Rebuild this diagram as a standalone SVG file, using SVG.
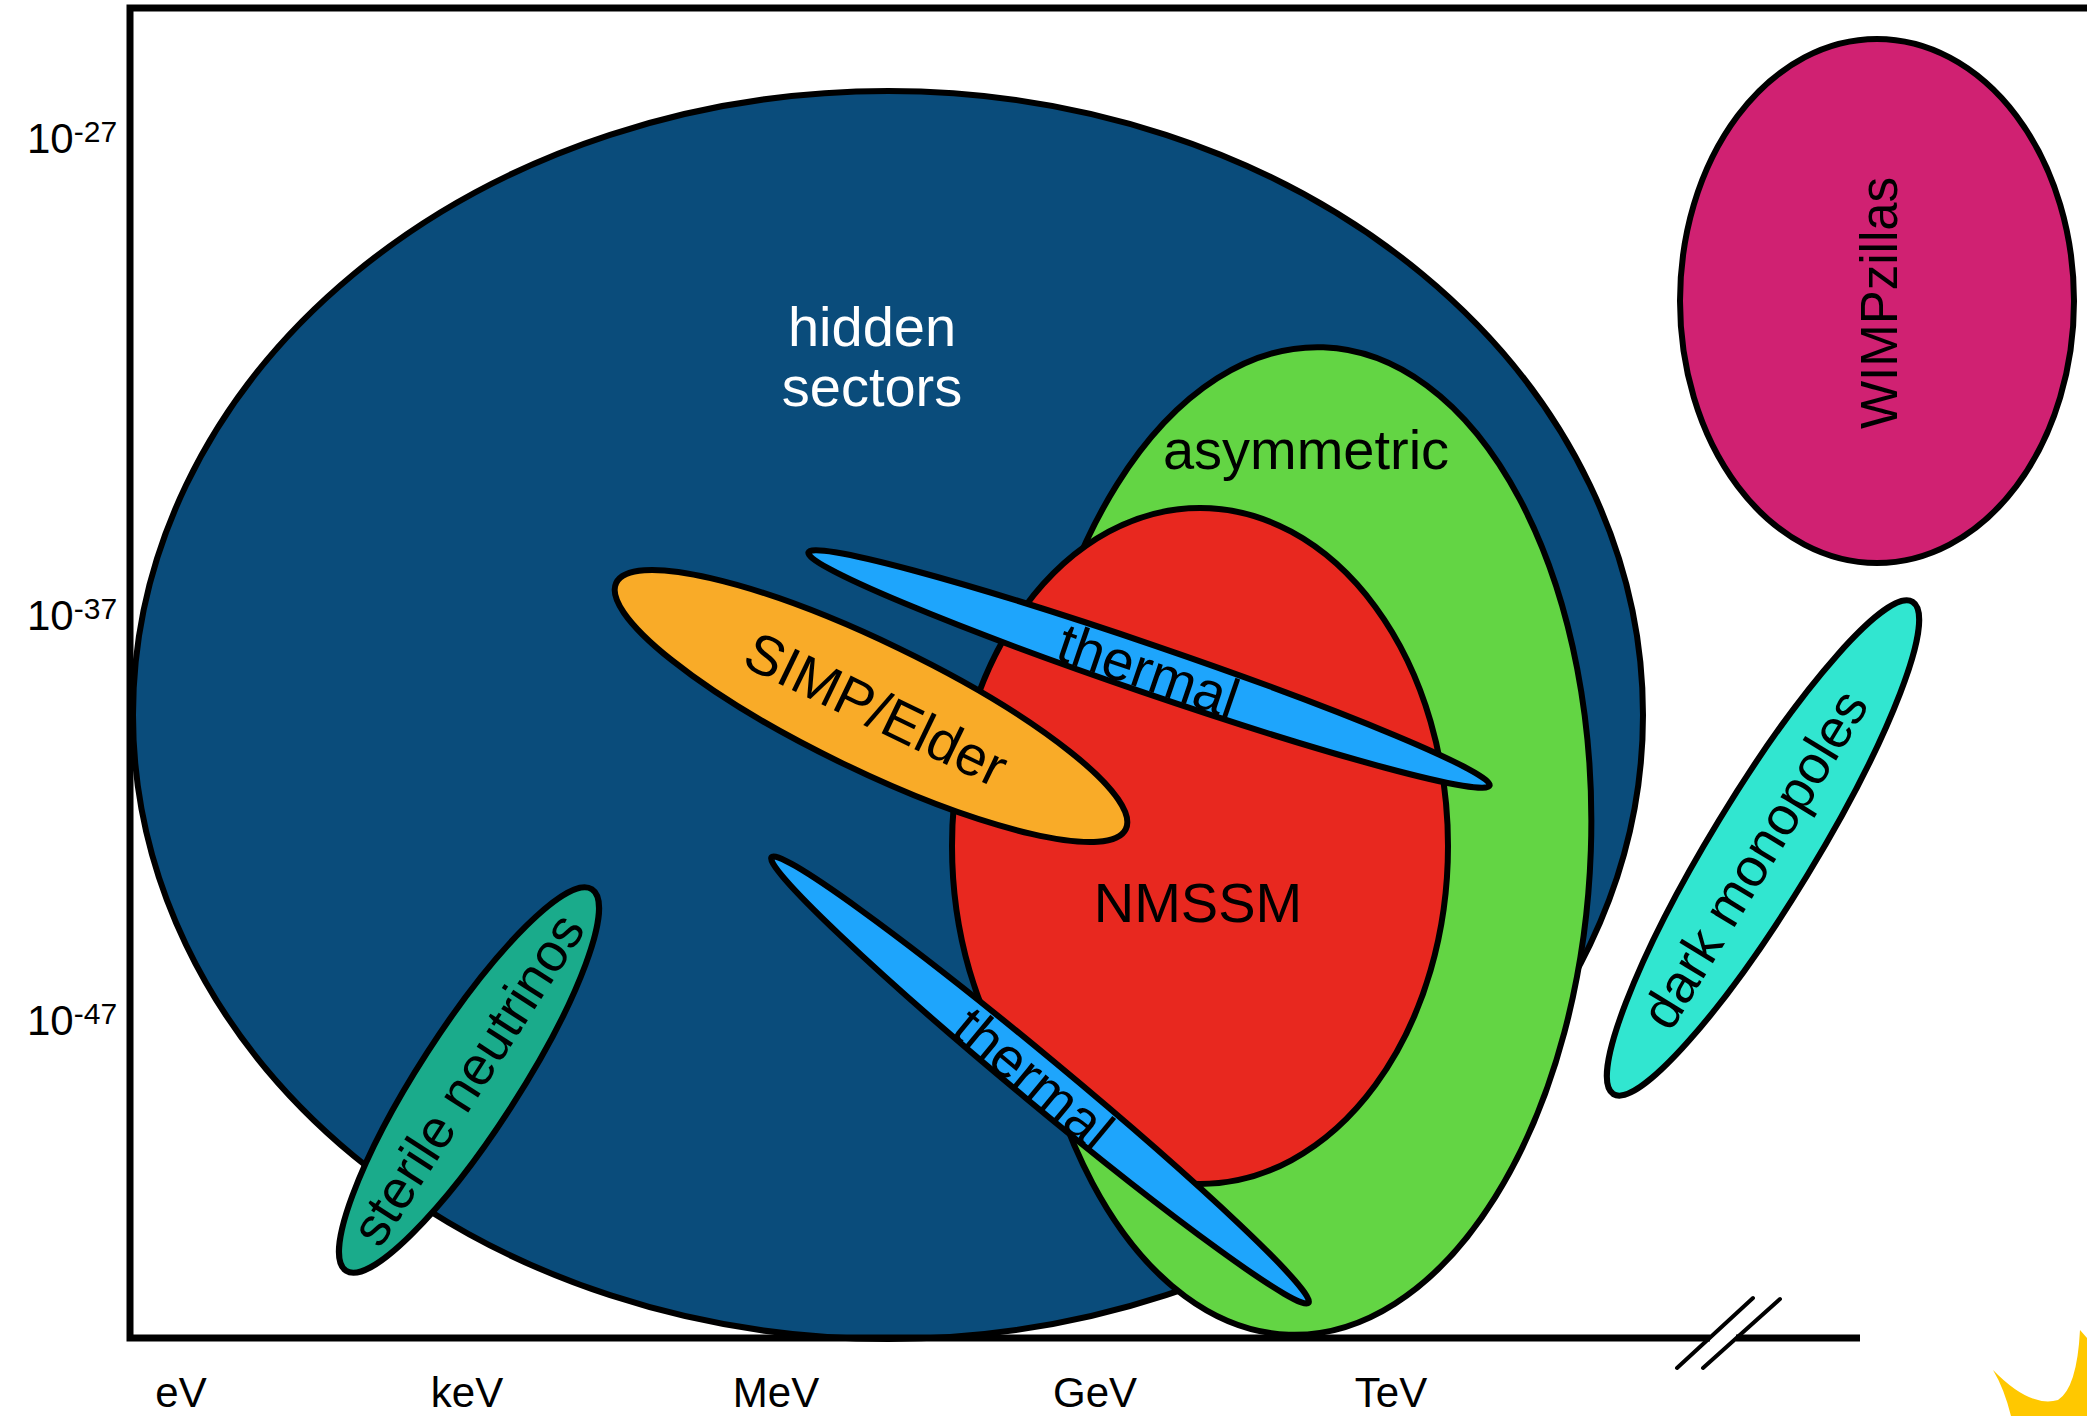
<svg xmlns="http://www.w3.org/2000/svg" width="2087" height="1416" viewBox="0 0 2087 1416">
<style>
.shape{stroke:#000;stroke-width:6}
.lbl{font-family:"Liberation Sans",Arial,Helvetica,sans-serif;font-size:56px;text-anchor:middle;fill:#000}
.ax{font-family:"Liberation Sans",Arial,Helvetica,sans-serif;fill:#000;font-size:42px}
.sup{font-size:30px}
.xl{text-anchor:middle}
.axis{stroke:#000;stroke-width:7;fill:none}
</style>
<rect width="2087" height="1416" fill="#fff"/>
<g id="hidden-sectors">
<ellipse class="shape" cx="888" cy="715" rx="755" ry="624" fill="#0a4c7b"/>
<text class="lbl" x="872" y="346" style="fill:#fff">hidden</text>
<text class="lbl" x="872" y="406" style="fill:#fff">sectors</text>
</g>
<g id="asymmetric">
<ellipse class="shape" cx="0" cy="0" rx="285" ry="494" fill="#63d544" transform="translate(1306,841) rotate(2)"/>
<text class="lbl" x="1306" y="469">asymmetric</text>
</g>
<g id="nmssm">
<ellipse class="shape" cx="1200" cy="846" rx="248" ry="338" fill="#e8281f"/>
<text class="lbl" x="1198" y="922">NMSSM</text>
</g>
<g id="thermal-upper" transform="translate(1149,669) rotate(18.9)">
<ellipse class="shape" cx="0" cy="0" rx="360" ry="24" fill="#1ea5fc"/>
<text class="lbl" x="0" y="21">thermal</text>
</g>
<g id="thermal-lower" transform="translate(1040,1080) rotate(39.7)">
<ellipse class="shape" cx="0" cy="0" rx="349" ry="23" fill="#1ea5fc"/>
<text class="lbl" x="-6" y="22">thermal</text>
</g>
<g id="simp-elder" transform="translate(871,706) rotate(25.8)">
<ellipse class="shape" cx="0" cy="0" rx="283" ry="64" fill="#f9ab28"/>
<text class="lbl" x="6" y="20">SIMP/Elder</text>
</g>
<g id="sterile-neutrinos" transform="translate(469,1080) rotate(-57.2)">
<ellipse class="shape" cx="0" cy="0" rx="227" ry="50" fill="#1aab8b"/>
<text class="lbl" x="0" y="17" style="font-size:54px">sterile neutrinos</text>
</g>
<g id="dark-monopoles" transform="translate(1763,848) rotate(-58.7)">
<ellipse class="shape" cx="0" cy="0" rx="288" ry="52" fill="#31e6d0"/>
<text class="lbl" x="-14" y="17" style="font-size:54px">dark monopoles</text>
</g>
<g id="wimpzillas">
<ellipse class="shape" cx="1877" cy="301" rx="197" ry="262" fill="#d02172"/>
<text class="lbl" x="0" y="18" style="font-size:51px" transform="translate(1879,303) rotate(-90)">WIMPzillas</text>
</g>
<g id="connectors">
<path class="axis" d="M2087,8 H130 V1338 H1710 M1736,1338 H1860"/>
<path stroke="#000" stroke-width="4" stroke-linecap="round" fill="none" d="M1677,1368 L1753,1298 M1703,1368 L1780,1299"/>
</g>
<g id="y-labels" class="ax">
<text x="27" y="153">10<tspan class="sup" dy="-11">-27</tspan></text>
<text x="27" y="630">10<tspan class="sup" dy="-11">-37</tspan></text>
<text x="27" y="1035">10<tspan class="sup" dy="-11">-47</tspan></text>
</g>
<g id="x-labels" class="ax xl">
<text x="181" y="1407">eV</text>
<text x="467" y="1407">keV</text>
<text x="776" y="1407">MeV</text>
<text x="1095" y="1407">GeV</text>
<text x="1391" y="1407">TeV</text>
</g>
<path id="corner" fill="#ffc800" d="M1993,1370 Q2030,1408 2058,1400 Q2077,1388 2080,1330 L2087,1338 L2087,1416 L2011,1416 Q2004,1388 1993,1370 Z"/>
</svg>
